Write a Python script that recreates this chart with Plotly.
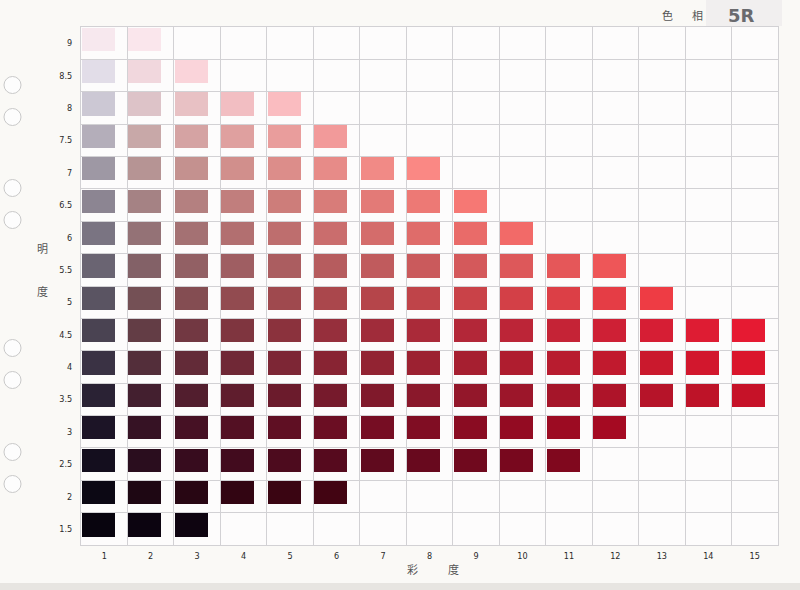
import plotly.graph_objects as go

# ---- data ----
values = [1.5, 2, 2.5, 3, 3.5, 4, 4.5, 5, 5.5, 6, 6.5, 7, 7.5, 8, 8.5, 9]
max_chroma = [3, 6, 11, 12, 15, 15, 15, 13, 12, 10, 9, 8, 6, 5, 3, 2]
chroma_ticks = list(range(1, 16))
value_ticks = values
value_labels = ["1.5", "2", "2.5", "3", "3.5", "4", "4.5", "5", "5.5", "6",
                "6.5", "7", "7.5", "8", "8.5", "9"]
hue_label = "5R"

# ---- styles (scan colours per row: chroma 1 and row's max chroma) ----
start_colors = [(8, 4, 14), (12, 8, 20), (20, 14, 30), (28, 20, 38), (42, 34, 52),
                (58, 50, 68), (74, 67, 82), (90, 84, 98), (106, 100, 114), (122, 116, 130),
                (140, 133, 146), (158, 152, 164), (180, 174, 186), (204, 200, 212),
                (226, 221, 232), (247, 232, 238)]
end_colors = [(14, 4, 16), (66, 4, 18), (128, 8, 30), (165, 10, 34), (198, 18, 40),
              (218, 22, 44), (230, 26, 50), (238, 60, 68), (238, 86, 88), (242, 106, 104),
              (246, 120, 116), (250, 136, 132), (242, 154, 154), (250, 188, 192),
              (250, 212, 218), (250, 230, 236)]
GAMMA_RG = 0.7
GAMMA_B = 0.35


def patch_color(i, c):
    cmax = max_chroma[i]
    t = 0 if cmax == 1 else (c - 1) / (cmax - 1)
    ts = (t ** GAMMA_RG, t ** GAMMA_RG, t ** GAMMA_B)
    s, e = start_colors[i], end_colors[i]
    r, g, b = (round(s[k] + (e[k] - s[k]) * ts[k]) for k in range(3))
    return f"rgb({r},{g},{b})"


xs, bases, heights, colors = [], [], [], []
for i, v in enumerate(values):
    for c in range(1, max_chroma[i] + 1):
        xs.append(c)
        bases.append(v - 0.12)
        heights.append(0.36)
        colors.append(patch_color(i, c))

fig = go.Figure()
fig.add_trace(go.Bar(
    x=xs, y=heights, base=bases,
    width=0.71, offset=-0.48,
    marker=dict(color=colors, line=dict(width=0)),
    hoverinfo="skip", showlegend=False,
))

grid_col = "#d2d1d4"
tick_font = dict(family="DejaVu Sans Condensed, Liberation Sans Narrow, sans-serif",
                 size=9, color="#2a2a2a")

fig.update_xaxes(
    range=[0.5, 15.5], tickmode="array", tickvals=chroma_ticks,
    ticktext=[str(c) for c in chroma_ticks], tickfont=tick_font,
    showgrid=False, zeroline=False, ticks="", ticklabelstandoff=2,
    showline=True, mirror=True, linecolor=grid_col, linewidth=1,
    minor=dict(tick0=0.5, dtick=1, showgrid=True, gridcolor=grid_col, gridwidth=1),
    fixedrange=True,
)
fig.update_yaxes(
    range=[1.25, 9.25], tickmode="array", tickvals=value_ticks,
    ticktext=value_labels, tickfont=tick_font,
    showgrid=False, zeroline=False, ticks="", ticklabelstandoff=6,
    showline=True, mirror=True, linecolor=grid_col, linewidth=1,
    minor=dict(tick0=0.25, dtick=0.5, showgrid=True, gridcolor=grid_col, gridwidth=1),
    fixedrange=True,
)

L, R, T, B = 81, 22, 27, 45
W, H = 800, 590
pw, ph = W - L - R, H - T - B


def px(x):
    return (x - L) / pw


def py(y):
    return (H - B - y) / ph


cjk = dict(family="Noto Sans CJK JP, sans-serif", size=11, color="#555")
annotations = [
    dict(text="明", x=px(42), y=py(248)),
    dict(text="度", x=px(42), y=py(291)),
    dict(text="彩", x=px(412), y=py(569)),
    dict(text="度", x=px(453), y=py(569)),
    dict(text="色", x=px(667), y=py(15)),
    dict(text="相", x=px(697), y=py(15)),
]
for a in annotations:
    a.update(xref="paper", yref="paper", showarrow=False, font=cjk,
             xanchor="center", yanchor="middle")
annotations.append(dict(text="<b>" + hue_label + "</b>", x=px(741), y=py(15),
                        xref="paper", yref="paper", showarrow=False,
                        font=dict(family="DejaVu Sans, sans-serif", size=18, color="#6a6a6e"),
                        xanchor="center", yanchor="middle"))

shapes = [
    # label box behind hue
    dict(type="rect", xref="paper", yref="paper", x0=px(706), x1=px(782), y0=py(26), y1=py(0),
         fillcolor="#f1efef", line=dict(width=0), layer="below"),
    # bottom scanner strip
    dict(type="rect", xref="paper", yref="paper", x0=px(0), x1=px(800), y0=py(590), y1=py(583),
         fillcolor="#e7e5e1", line=dict(width=0), layer="below"),
]
for hy in [85, 117, 188, 220, 348, 380, 452, 484]:
    shapes.append(dict(type="circle", xref="paper", yref="paper",
                       x0=px(4), x1=px(21), y0=py(hy + 8.5), y1=py(hy - 8.5),
                       fillcolor="#fdfdfd", line=dict(color="#c9c9c9", width=1)))

fig.update_layout(
    width=W, height=H,
    margin=dict(l=L, r=R, t=T, b=B),
    paper_bgcolor="#faf9f6", plot_bgcolor="#fdfcfc",
    barmode="overlay", bargap=0,
    annotations=annotations, shapes=shapes,
    showlegend=False,
)

fig.write_html("out.html",
               config={"displayModeBar": False, "staticPlot": True},
               post_script="document.body.style.margin='0';document.body.style.background='#faf9f6';")
